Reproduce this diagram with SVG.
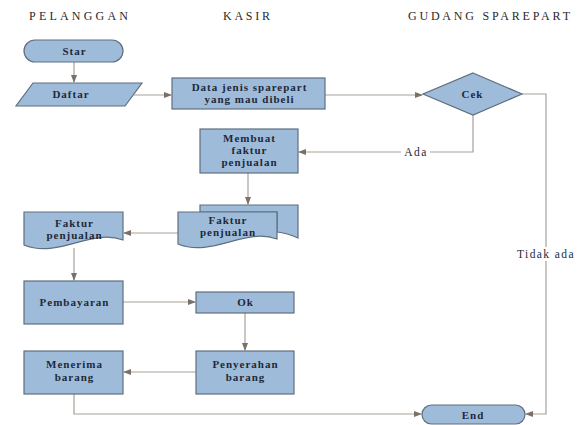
<svg xmlns="http://www.w3.org/2000/svg" width="581" height="425" viewBox="0 0 581 425">
<defs>
<style>
.n{fill:#9ebcda;stroke:#5f6f80;stroke-width:1.2}
.t{font-family:'Liberation Serif','Times New Roman',serif;font-weight:bold;font-size:11px;fill:#1e2838;text-anchor:middle;letter-spacing:1px}
.h{font-family:'Liberation Serif','Times New Roman',serif;font-size:12px;fill:#2a2a2a;text-anchor:middle}
.c{fill:none;stroke:#a8a098;stroke-width:1.2}
.l{font-family:'Liberation Serif','Times New Roman',serif;font-size:11.5px;fill:#1e2838;text-anchor:middle;letter-spacing:1.4px}
</style>
<marker id="a" markerWidth="8" markerHeight="6" refX="7" refY="3" orient="auto" markerUnits="userSpaceOnUse">
<path d="M0,0 L8,3 L0,6 z" fill="#7a7068"/>
</marker>
</defs>
<rect width="581" height="425" fill="#ffffff"/>
<g id="headers">
<text class="h" x="78.5" y="20" textLength="99" lengthAdjust="spacing">PELANGGAN</text>
<text class="h" x="246.5" y="20" textLength="47" lengthAdjust="spacing">KASIR</text>
<text class="h" x="489" y="20" textLength="162" lengthAdjust="spacing">GUDANG SPAREPART</text>
</g>
<g id="connectors">
<path class="c" d="M74,62 V82" marker-end="url(#a)"/>
<path class="c" d="M134,95 H171" marker-end="url(#a)"/>
<path class="c" d="M325,95 H422" marker-end="url(#a)"/>
<path class="c" d="M473,115 V152 H299" marker-end="url(#a)"/>
<path class="c" d="M522,94 H546 V414 H526" marker-end="url(#a)"/>
<path class="c" d="M248,173 V204" marker-end="url(#a)"/>
<path class="c" d="M178,233 H124" marker-end="url(#a)"/>
<path class="c" d="M74,248 V280" marker-end="url(#a)"/>
<path class="c" d="M123,302 H195" marker-end="url(#a)"/>
<path class="c" d="M245,313 V350" marker-end="url(#a)"/>
<path class="c" d="M196,372 H124" marker-end="url(#a)"/>
<path class="c" d="M74,394 V414 H421" marker-end="url(#a)"/>
<rect x="401" y="145" width="29" height="14" fill="#ffffff"/>
<text class="l" x="416" y="156">Ada</text>
<rect x="512" y="247" width="68" height="14" fill="#ffffff"/>
<text class="l" x="546" y="258">Tidak ada</text>
</g>
<g id="star">
<rect class="n" x="24" y="40" width="99" height="22" rx="11"/>
<text class="t" x="74.5" y="55">Star</text>
</g>
<g id="daftar">
<polygon class="n" points="33,83 142,83 125,106 16,106"/>
<text class="t" x="71" y="98">Daftar</text>
</g>
<g id="data">
<rect class="n" x="172" y="78" width="153" height="31"/>
<text class="t" x="249.5" y="91">Data jenis sparepart</text>
<text class="t" x="249.5" y="103">yang mau dibeli</text>
</g>
<g id="cek">
<polygon class="n" points="473,73 522,94 473,115 423,94"/>
<text class="t" x="472.5" y="98">Cek</text>
</g>
<g id="membuat">
<rect class="n" x="200" y="129" width="98" height="44"/>
<text class="t" x="249.5" y="142">Membuat</text>
<text class="t" x="249.5" y="154">faktur</text>
<text class="t" x="249.5" y="166">penjualan</text>
</g>
<g id="faktur-kasir">
<path class="n" d="M200,205 H298 V238 Q287,233 277,232 V212 H200 Z"/>
<path class="n" d="M178,212 H277 V239 C245,227 212,258 178,244 Z"/>
<text class="t" x="228" y="224">Faktur</text>
<text class="t" x="228" y="236">penjualan</text>
</g>
<g id="faktur-pelanggan">
<path class="n" d="M24,212 H123 V240 C91,228 58,259 24,245 Z"/>
<text class="t" x="74.5" y="227">Faktur</text>
<text class="t" x="74.5" y="239">penjualan</text>
</g>
<g id="pembayaran">
<rect class="n" x="24" y="281" width="99" height="43"/>
<text class="t" x="74.5" y="306">Pembayaran</text>
</g>
<g id="ok">
<rect class="n" x="196" y="292" width="98" height="21"/>
<text class="t" x="245.5" y="306">Ok</text>
</g>
<g id="penyerahan">
<rect class="n" x="196" y="351" width="98" height="43"/>
<text class="t" x="245.5" y="368">Penyerahan</text>
<text class="t" x="245.5" y="381">barang</text>
</g>
<g id="menerima">
<rect class="n" x="24" y="351" width="99" height="43"/>
<text class="t" x="74.5" y="368">Menerima</text>
<text class="t" x="74.5" y="381">barang</text>
</g>
<g id="end">
<rect class="n" x="422" y="405" width="103" height="19" rx="9.5"/>
<text class="t" x="473" y="419">End</text>
</g>
</svg>
